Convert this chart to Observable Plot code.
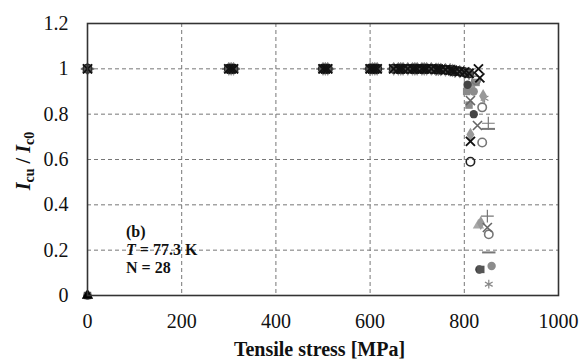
<!DOCTYPE html>
<html>
<head>
<meta charset="utf-8">
<script src="https://cdn.jsdelivr.net/npm/d3@7"></script>
<script src="https://cdn.jsdelivr.net/npm/@observablehq/plot@0.6"></script>
<style>
  html, body { margin: 0; padding: 0; background: #fff; }
  #chart svg { display: block; }
</style>
</head>
<body>
<div id="chart"></div>
<script>
// ---- data ----
const xTicks = [0, 200, 400, 600, 800, 1000];
const yTicks = [0, 0.2, 0.4, 0.6, 0.8, 1, 1.2];
const yTickLabels = ["0", "0.2", "0.4", "0.6", "0.8", "1", "1.2"];

// marker styles (drawing order: lightest first, black X last)
const styleIds    = ["triG", "plusG", "astG", "dashG", "diaG", "sqG", "circFG", "circOG", "xG", "circFD", "circOK", "sqD", "xK"];
// plateau (undamaged) stress steps and Icu/Ic0
const plateauStress = [0, 300, 305, 310, 500, 505, 510, 600, 605, 610, 615, 650, 660, 665, 670, 680, 690, 695, 700, 710, 715, 720, 730, 740, 745, 750, 760, 770, 775, 780, 790, 800, 810];
const plateauRatio  = [1, 1, 1, 1, 1, 1, 1, 1, 1, 1, 1, 1, 1, 1, 1, 1, 1, 1, 1, 1, 1, 1, 1, 0.998, 0.998, 0.997, 0.996, 0.995, 0.993, 0.99, 0.988, 0.985, 0.98];
// degraded points near failure
const degStyle  = ["xK", "xK", "xK", "xG", "xG", "xG", "circFD", "circFD", "circFD", "circOK", "circOG", "circOG", "circOG", "diaG", "diaG", "diaG", "sqG", "sqG", "sqD", "triG", "plusG", "plusG", "astG", "astG", "dashG", "dashG", "circFG", "circFG", "circOG", "sqG", "diaG"];
const degStress = [830, 833, 813, 813, 828, 849, 807, 820, 832, 813, 838, 838, 852, 813, 835, 815, 810, 805, 835, 830, 851, 849, 843, 852, 851, 852, 858, 820, 825, 825, 840];
const degRatio  = [1.0, 0.96, 0.68, 0.86, 0.75, 0.30, 0.93, 0.80, 0.115, 0.59, 0.83, 0.675, 0.27, 0.71, 0.32, 0.92, 0.84, 0.90, 0.115, 0.31, 0.76, 0.35, 0.87, 0.05, 0.735, 0.19, 0.13, 0.90, 0.95, 0.94, 0.88];
// failure points plotted at zero stress / zero current
const zeroStyle = ["triG", "circFD", "sqD", "triK"];

// ---- style table (library options) ----
const dash = { draw(ctx, size) { const w = Math.sqrt(size) * 0.9; ctx.moveTo(-w, 0); ctx.lineTo(w, 0); } };
const styleDefs = {
  triG:   { symbol: "triangle", fill: "#a8a8a8", stroke: "none" },
  triK:   { symbol: "triangle", fill: "#000", stroke: "none" },
  plusG:  { symbol: "plus", fill: "none", stroke: "#777", strokeWidth: 1.2 },
  astG:   { symbol: "asterisk", fill: "none", stroke: "#888", strokeWidth: 1.2 },
  dashG:  { symbol: dash, fill: "none", stroke: "#777", strokeWidth: 2 },
  diaG:   { symbol: "diamond", fill: "#999", stroke: "none" },
  sqG:    { symbol: "square", fill: "#8a8a8a", stroke: "none" },
  sqD:    { symbol: "square", fill: "#555", stroke: "none" },
  circFG: { symbol: "circle", fill: "#8c8c8c", stroke: "none" },
  circFD: { symbol: "circle", fill: "#444", stroke: "none" },
  circOG: { symbol: "circle", fill: "none", stroke: "#777", strokeWidth: 1.6 },
  circOK: { symbol: "circle", fill: "none", stroke: "#222", strokeWidth: 1.6 },
  xG:     { symbol: "times", fill: "none", stroke: "#666", strokeWidth: 1.6 },
  xK:     { symbol: "times", fill: "none", stroke: "#111", strokeWidth: 1.9 }
};

const marks = [];
marks.push(Plot.gridX([200, 400, 600, 800], { stroke: "#777", strokeOpacity: 1, strokeDasharray: "4,3" }));
marks.push(Plot.gridY([0.2, 0.4, 0.6, 0.8, 1.0], { stroke: "#777", strokeOpacity: 1, strokeDasharray: "4,3" }));

for (const id of styleIds) {
  const def = styleDefs[id];
  const pts = plateauStress.map((s, i) => ({ x: s, y: plateauRatio[i] }));
  degStyle.forEach((st, i) => { if (st === id) pts.push({ x: degStress[i], y: degRatio[i] }); });
  marks.push(Plot.dot(pts, { x: "x", y: "y", r: 4.2, ...def }));
}
for (const id of zeroStyle) {
  marks.push(Plot.dot([{ x: 0, y: 0 }], { x: "x", y: "y", r: 4.2, ...styleDefs[id] }));
}

marks.push(Plot.frame({ stroke: "#333", strokeWidth: 1.6 }));
marks.push(Plot.axisX(xTicks, { tickSize: 0, tickPadding: 18, fontSize: 20, tickFormat: d => String(d) }));
marks.push(Plot.axisY(yTicks, { tickSize: 0, tickPadding: 19, fontSize: 20, tickFormat: d => yTickLabels[yTicks.indexOf(d)] }));

const plot = Plot.plot({
  width: 579,
  height: 359,
  marginLeft: 87,
  marginRight: 21,
  marginTop: 23,
  marginBottom: 64,
  style: { fontFamily: "'Liberation Serif', 'Times New Roman', serif", color: "#111", background: "#fff" },
  x: { domain: [0, 1000], label: null },
  y: { domain: [0, 1.2], label: null },
  marks
});

const svg = d3.select(plot);
const F = "'Liberation Serif', 'Times New Roman', serif";
// x-axis label
svg.append("text")
  .attr("x", (87 + 558) / 2 - 3).attr("y", 356)
  .attr("text-anchor", "middle")
  .attr("font-family", F).attr("font-size", 20).attr("font-weight", "bold").attr("fill", "#111")
  .text("Tensile stress [MPa]");
// y-axis label
const yl = svg.append("text")
  .attr("transform", "translate(30,161) rotate(-90)")
  .attr("text-anchor", "middle")
  .attr("font-family", F).attr("font-size", 20).attr("font-weight", "bold").attr("fill", "#111");
yl.append("tspan").attr("font-style", "italic").text("I");
yl.append("tspan").attr("font-size", 14).attr("dy", 4).text("cu");
yl.append("tspan").attr("dy", -4).text(" / ");
yl.append("tspan").attr("font-style", "italic").text("I");
yl.append("tspan").attr("font-size", 14).attr("dy", 4).text("c0");
// annotation
const ann = svg.append("g")
  .attr("text-anchor", "start")
  .attr("font-family", F).attr("font-size", 16).attr("font-weight", "bold").attr("fill", "#111");
ann.append("text").attr("x", 126).attr("y", 237).text("(b)");
const tl = ann.append("text").attr("x", 126).attr("y", 255);
tl.append("tspan").attr("font-style", "italic").text("T");
tl.append("tspan").text(" = 77.3 K");
ann.append("text").attr("x", 126).attr("y", 273).text("N = 28");

document.getElementById("chart").appendChild(plot);
</script>
</body>
</html>
